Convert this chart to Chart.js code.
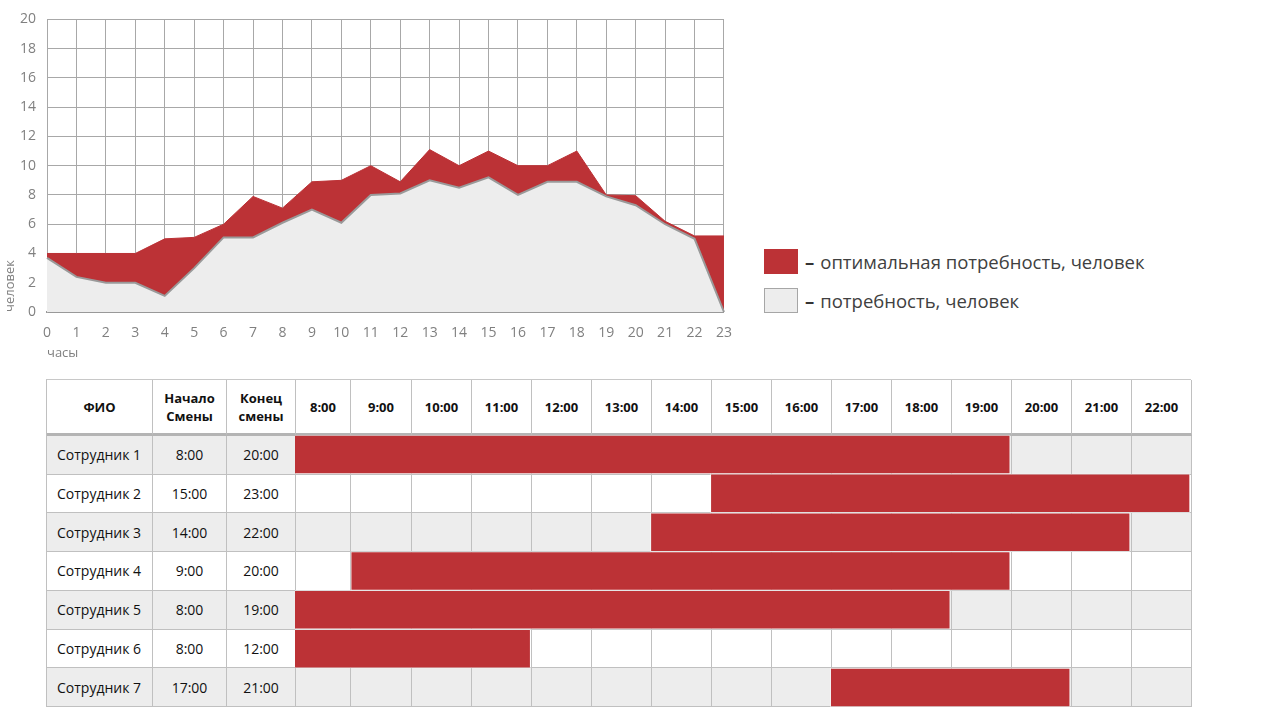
<!DOCTYPE html>
<html>
<head>
<meta charset="utf-8">
<script src="https://cdn.jsdelivr.net/npm/chart.js@4.4.0/dist/chart.umd.min.js"></script>
<style>
  html, body { margin:0; padding:0; background:#fff; width:1280px; height:720px; overflow:hidden; font-family:"Open Sans", sans-serif; }
  #areaWrap { position:absolute; left:0; top:0; width:745px; height:365px; }
  .legend { position:absolute; left:764px; font-size:18.5px; color:#404040; display:flex; align-items:center; height:25px; }
  .legend .sw { width:34px; height:25px; box-sizing:border-box; margin-right:7px; }
  .legend b { font-weight:bold; margin-right:6px; color:#333; }
  #grid { position:absolute; left:46px; top:379px; width:1145px; height:328px; display:grid;
          grid-template-columns: 106px 74px 69px 55px 61px repeat(13, 60px);
          grid-template-rows: 56px repeat(7, 1fr);
          border-left:1px solid #c0c0c0; border-top:1px solid #c8c8c8; box-sizing:border-box; }
  .c { border-right:1px solid #c0c0c0; border-bottom:1px solid #c0c0c0; box-sizing:border-box;
       display:flex; align-items:center; justify-content:center; font-size:14px; color:#111; }
  .h { font-weight:bold; font-size:13px; text-align:center; line-height:18px; border-bottom:3px solid #b4b4b4; }
  .name { justify-content:flex-start; padding-left:10px; }
  .g { background:#ededed; }
  #barWrap { position:absolute; left:295px; top:435px; width:895px; height:272px; }
</style>
</head>
<body>
<div id="areaWrap"><canvas id="area"></canvas></div>
<div class="legend" style="top:249px;"><div class="sw" style="background:#bc3236;"></div><b>–</b><span id="lg1"></span></div>
<div class="legend" style="top:288px;"><div class="sw" style="background:#ededed;border:1px solid #a6a6a6;"></div><b>–</b><span id="lg2"></span></div>
<div id="grid"></div>
<div id="barWrap"><canvas id="bars"></canvas></div>
<script>
// ---- Area chart data ----
const hours = ["0","1","2","3","4","5","6","7","8","9","10","11","12","13","14","15","16","17","18","19","20","21","22","23"];
const optimalNeed = [4, 4, 4, 4, 5, 5.1, 6, 7.9, 7.1, 8.9, 9, 10, 8.9, 11.1, 10, 11, 10, 10, 11, 8, 7.95, 6.2, 5.2, 5.2];
const need        = [3.7, 2.4, 2, 2, 1.1, 3, 5.1, 5.1, 6.1, 7, 6.1, 8, 8.1, 9, 8.5, 9.2, 8, 8.9, 8.9, 7.9, 7.3, 6, 5, 0];
const seriesNames = ["оптимальная потребность, человек", "потребность, человек"];

// ---- Schedule data ----
const employees = ["Сотрудник 1","Сотрудник 2","Сотрудник 3","Сотрудник 4","Сотрудник 5","Сотрудник 6","Сотрудник 7"];
const shiftStart = ["8:00","15:00","14:00","9:00","8:00","8:00","17:00"];
const shiftEnd   = ["20:00","23:00","22:00","20:00","19:00","12:00","21:00"];
const hourCols   = ["8:00","9:00","10:00","11:00","12:00","13:00","14:00","15:00","16:00","17:00","18:00","19:00","20:00","21:00","22:00"];
const headers    = ["ФИО","Начало<br>Смены","Конец<br>смены"];

const RED = "#bc3236";
const GRAY_FILL = "#ededed";

document.getElementById('lg1').textContent = seriesNames[0];
document.getElementById('lg2').textContent = seriesNames[1];

new Chart(document.getElementById('area'), {
  type: 'line',
  data: {
    labels: hours,
    datasets: [
      { label: seriesNames[1], data: need, fill: 'origin', backgroundColor: GRAY_FILL, borderColor: '#9a9a9a', borderWidth: 2, pointRadius: 0, tension: 0, order: 0 },
      { label: seriesNames[0], data: optimalNeed, fill: 'origin', backgroundColor: RED, borderColor: RED, borderWidth: 1, pointRadius: 0, tension: 0, order: 1 }
    ]
  },
  options: {
    responsive: true, maintainAspectRatio: false, animation: false,
    layout: { padding: { top: 14, right: 16, left: 0, bottom: 0 } },
    plugins: { legend: { display: false }, tooltip: { enabled: false } },
    scales: {
      x: {
        offset: false,
        grid: { color: '#a8a8a8', lineWidth: 1, drawTicks: false },
        border: { color: '#999', width: 2 },
        ticks: { color: '#808080', font: { family: 'Open Sans', size: 14 }, padding: 13, maxRotation: 0, autoSkip: false },
        title: { display: true, text: 'часы', align: 'start', color: '#808080', font: { family: 'Open Sans', size: 13 }, padding: { top: 0, bottom: 4 } },
        afterFit: s => { s.height = 53; }
      },
      y: {
        min: 0, max: 20,
        grid: { color: '#a8a8a8', lineWidth: 1, drawTicks: false },
        border: { color: '#a8a8a8', width: 1 },
        ticks: { stepSize: 2, color: '#808080', font: { family: 'Open Sans', size: 14 }, padding: 11 },
        title: { display: true, text: 'человек', align: 'start', color: '#808080', font: { family: 'Open Sans', size: 13 }, padding: { top: 2, bottom: 0 } },
        afterFit: s => { s.width = 47; }
      }
    }
  }
});

// ---- Table grid ----
const grid = document.getElementById('grid');
function cell(html, cls) { const d = document.createElement('div'); d.className = 'c ' + cls; d.innerHTML = html; grid.appendChild(d); }
headers.forEach(h => cell(h, 'h'));
hourCols.forEach(h => cell(h, 'h'));
employees.forEach((e, i) => {
  const g = i % 2 === 0 ? ' g' : '';
  cell(e, 'name' + g);
  cell(shiftStart[i], g);
  cell(shiftEnd[i], g);
  hourCols.forEach(() => cell('', g));
});

// ---- Gantt bars ----
const toHour = t => parseInt(t.split(':')[0], 10);
new Chart(document.getElementById('bars'), {
  type: 'bar',
  data: {
    labels: employees,
    datasets: [{
      data: employees.map((e, i) => [toHour(shiftStart[i]), toHour(shiftEnd[i])]),
      backgroundColor: RED, borderColor: 'rgba(255,255,255,0.45)', borderWidth: 1, borderSkipped: false,
      barPercentage: 1, categoryPercentage: 1
    }]
  },
  options: {
    indexAxis: 'y', responsive: true, maintainAspectRatio: false, animation: false,
    layout: { padding: 0 },
    plugins: { legend: { display: false }, tooltip: { enabled: false } },
    scales: {
      x: { display: false, min: 8.07, max: 23 },
      y: { display: false }
    }
  }
});
</script>
</body>
</html>
